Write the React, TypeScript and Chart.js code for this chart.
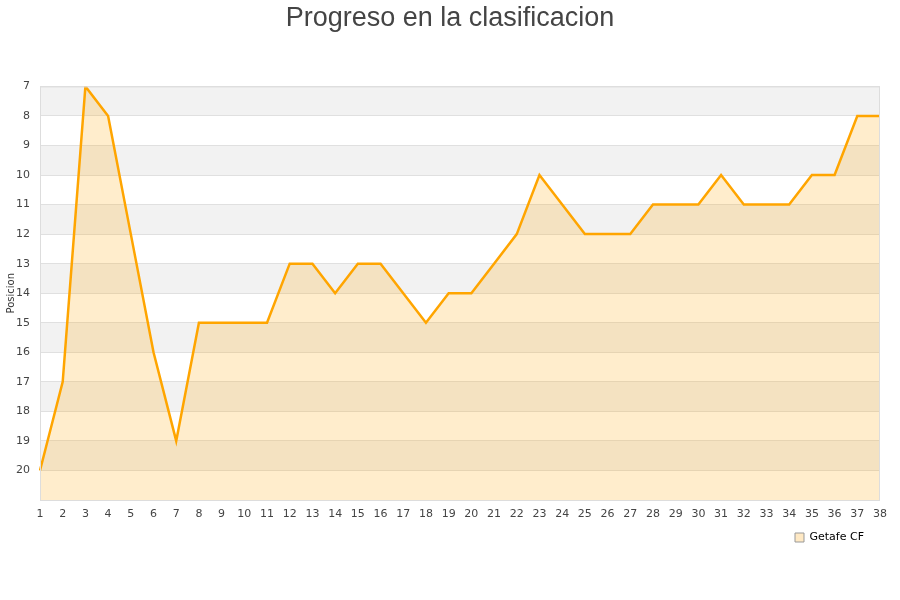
import React, { useEffect, useRef } from 'react';
import { Chart, registerables } from 'chart.js';

Chart.register(...registerables);

const jornadas: string[] = Array.from({ length: 38 }, (_, i) => String(i + 1));
const posiciones: number[] = [
    20, 17, 7, 8, 12, 16, 19, 15, 15, 15,
    15, 13, 13, 14, 13, 13, 14, 15, 14, 14,
    13, 12, 10, 11, 12, 12, 12, 11, 11, 11,
    10, 11, 11, 11, 10, 10, 8, 8,
];
const equipo = 'Getafe CF';
const titulo = 'Progreso en la clasificacion';

// alternate gray / white bands, one per position
const bandsPlugin = {
    id: 'bands',
    afterLayout(chart: any) {
        // center the title on the whole canvas, not just the padded area
        if (chart.titleBlock) {
            chart.titleBlock.left = 0;
            chart.titleBlock.right = chart.width;
        }
        if (chart.legend) {
            chart.legend.right -= 6;
        }
    },
    beforeDraw(chart: any) {
        const { ctx, chartArea, scales } = chart;
        const y = scales.y;
        ctx.save();
        for (let v = 7; v < 21; v++) {
            const top = y.getPixelForValue(v);
            const bottom = y.getPixelForValue(v + 1);
            ctx.fillStyle = (v - 7) % 2 === 0 ? '#f2f2f2' : '#ffffff';
            ctx.fillRect(chartArea.left, top, chartArea.right - chartArea.left, bottom - top);
        }
        ctx.restore();
    },
    afterDraw(chart: any) {
        const { ctx, chartArea } = chart;
        ctx.save();
        ctx.strokeStyle = '#dddddd';
        ctx.lineWidth = 1;
        ctx.strokeRect(chartArea.left + 0.5, chartArea.top + 0.5, chartArea.right - chartArea.left - 1, chartArea.bottom - chartArea.top);
        ctx.restore();
    },
};

const App: React.FC = () => {
    const chartRef = useRef<HTMLCanvasElement>(null);
    const chartInstance = useRef<Chart | null>(null);

    useEffect(() => {
        document.body.style.margin = '0';
        if (chartRef.current) {
            if (chartInstance.current) {
                chartInstance.current.destroy();
            }
            const ctx = chartRef.current.getContext('2d');
            if (ctx) {
                chartInstance.current = new Chart(ctx, {
                    type: 'line',
                    data: {
                        labels: jornadas,
                        datasets: [{
                            label: equipo,
                            data: posiciones,
                            fill: { value: 21 },
                            backgroundColor: 'rgba(255, 165, 0, 0.2)',
                            borderColor: '#ffa500',
                            borderWidth: 2.5,
                            pointRadius: 0,
                            tension: 0,
                        }]
                    },
                    options: {
                        responsive: false,
                        animation: false,
                        layout: { padding: { left: 0, right: 20, top: 0, bottom: 47 } },
                        scales: {
                            y: {
                                reverse: true,
                                min: 7,
                                max: 21,
                                afterFit: (s: any) => { s.width = 40; },
                                ticks: {
                                    stepSize: 1,
                                    padding: 10,
                                    color: '#444',
                                    font: { family: 'DejaVu Sans', size: 11 },
                                    callback: (v: any) => (v === 21 ? '' : String(v)),
                                },
                                grid: { color: '#e0e0e0', drawTicks: false },
                                border: { display: false },
                                title: {
                                    display: true,
                                    text: 'Posicion',
                                    color: '#333',
                                    font: { family: 'DejaVu Sans', size: 10 },
                                    padding: { top: 5, bottom: 0 },
                                },
                            },
                            x: {
                                offset: false,
                                afterFit: (s: any) => { s.height = 22; },
                                ticks: {
                                    color: '#444',
                                    font: { family: 'DejaVu Sans', size: 11 },
                                    maxRotation: 0,
                                    autoSkip: false,
                                    padding: 0,
                                },
                                grid: { display: false },
                                border: { display: false },
                            },
                        },
                        plugins: {
                            title: {
                                display: true,
                                text: titulo,
                                color: '#444',
                                font: { family: 'Liberation Sans', size: 27, weight: 'normal' },
                                padding: { top: 2, bottom: 52 },
                            },
                            legend: {
                                position: 'bottom',
                                align: 'end',
                                labels: {
                                    boxWidth: 9,
                                    boxHeight: 9,
                                    color: '#222',
                                    font: { family: 'DejaVu Sans', size: 11 },
                                    generateLabels: () => [{
                                        text: equipo,
                                        fillStyle: '#ffe9c4',
                                        strokeStyle: '#999',
                                        lineWidth: 1,
                                        hidden: false,
                                        datasetIndex: 0,
                                    }],
                                },
                            },
                            tooltip: { enabled: false },
                        },
                    },
                    plugins: [bandsPlugin],
                });
            }
        }
        return () => {
            if (chartInstance.current) {
                chartInstance.current.destroy();
                chartInstance.current = null;
            }
        };
    }, []);

    return <canvas ref={chartRef} width={900} height={600} style={{ display: 'block' }}></canvas>;
};

export default App;
